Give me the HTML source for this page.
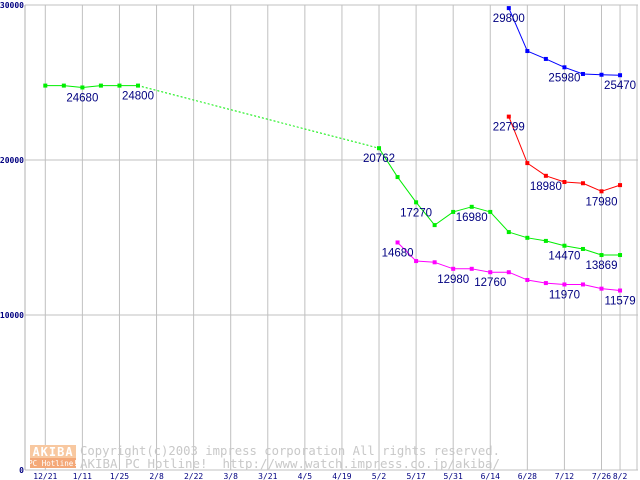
<!DOCTYPE html>
<html><head><meta charset="utf-8"><style>
body{margin:0;background:#fff;}
svg{display:block;font-family:"DejaVu Sans Mono","Liberation Mono",monospace;}
</style></head><body>
<svg id="chart" width="640" height="480" viewBox="0 0 640 480">
<rect x="0" y="0" width="640" height="480" fill="#fff"/>
<g id="grid"></g>
<g id="logo">
<rect x="30" y="445" width="46" height="13" fill="#f8c8a0"/>
<rect x="30" y="458" width="46" height="10" fill="#f4a878"/>
<text x="53" y="456" font-size="12" fill="#fff" text-anchor="middle" font-weight="bold" letter-spacing="1">AKIBA</text>
<text x="53" y="466" font-size="7.5" fill="#fff" text-anchor="middle">PC Hotline!</text>
</g>
<g fill="#c8c8c8" font-size="12">
<text x="80" y="455" textLength="420" lengthAdjust="spacingAndGlyphs">Copyright(c)2003 impress corporation All rights reserved.</text>
<text x="80" y="468" textLength="420" lengthAdjust="spacingAndGlyphs" xml:space="preserve">AKIBA PC Hotline!  http://www.watch.impress.co.jp/akiba/</text>
</g>
<g id="series"></g>
<g id="labels"></g>
</svg>
<script>
const xTickLabels=["12/21","1/11","1/25","2/8","2/22","3/8","3/21","4/5","4/19","5/2","5/17","5/31","6/14","6/28","7/12","7/26","8/2"];
const xTickIndex=[0,2,4,6,8,10,12,14,16,18,20,22,24,26,28,30,31];
const yTicks=[0,10000,20000,30000];
const greenIdx=[0,1,2,3,4,5,18,19,20,21,22,23,24,25,26,27,28,29,30,31];
const greenVals=[24800,24800,24680,24800,24800,24800,20762,18900,17270,15800,16650,16980,16650,15350,14980,14780,14470,14260,13869,13869];
const magIdx=[19,20,21,22,23,24,25,26,27,28,29,30,31];
const magVals=[14680,13480,13400,12980,12980,12760,12760,12260,12060,11970,11970,11700,11579];
const redIdx=[25,26,27,28,29,30,31];
const redVals=[22799,19800,18980,18580,18500,17980,18380];
const blueIdx=[25,26,27,28,29,30,31];
const blueVals=[29800,27030,26520,25980,25550,25500,25470];
const greenLabels=[2,5,6,8,11,16,18];
const magLabels=[0,3,5,9,12];
const redLabels=[0,2,5];
const blueLabels=[0,3,6];
const NS="http://www.w3.org/2000/svg";
const X=i=>45.3+18.54*i;
const Y=v=>470-v*0.0155;
function mk(t,a,p){const e=document.createElementNS(NS,t);for(const k in a)e.setAttribute(k,a[k]);p.appendChild(e);return e;}
const grid=document.getElementById('grid');
yTicks.forEach(v=>{
  const l=mk('line',{x1:25,x2:638,y1:Y(v),y2:Y(v),stroke:'#c0c0c0','stroke-width':1},grid);
  
  
  const t=mk('text',{x:24,y:Y(v)+3,'font-size':8,fill:'#000080','text-anchor':'end','font-weight':'bold'},grid);
  t.textContent=v;
  
  
});
xTickIndex.forEach((i,k)=>{
  const l=mk('line',{x1:X(i),x2:X(i),y1:5,y2:470,stroke:'#c0c0c0','stroke-width':1},grid);
  
  
  const t=mk('text',{x:X(i),y:479,'font-size':8,fill:'#000080','text-anchor':'middle'},grid);
  t.textContent=xTickLabels[k];
  
  
});
mk('line',{x1:25,x2:25,y1:5,y2:470,stroke:'#b0b0b0'},grid);
mk('line',{x1:637,x2:637,y1:5,y2:470,stroke:'#c0c0c0'},grid);
const sg=document.getElementById('series'),lg=document.getElementById('labels');
function series(name,idx,vals,color,labs){
  const g=mk('g',{},sg);
  
  
  for(let k=0;k<idx.length-1;k++){
    const dash=idx[k+1]-idx[k]>1;
    const l=mk('line',{x1:X(idx[k]),y1:Y(vals[k]),x2:X(idx[k+1]),y2:Y(vals[k+1]),stroke:color,'stroke-width':1},g);
    if(dash)l.setAttribute('stroke-dasharray','2,2');
  }
  idx.forEach((i,k)=>{
    const r=mk('rect',{x:X(i)-2,y:Y(vals[k])-2,width:4,height:4,fill:color},g);
    
    
  });
  labs.forEach(k=>{
    const t=mk('text',{x:X(idx[k]),y:Y(vals[k])+14,'font-size':11.5,fill:'#000080','text-anchor':'middle','font-family':'Liberation Sans, sans-serif'},lg);
    t.textContent=vals[k];
    
    
  });
}
series('green-series',greenIdx,greenVals,'#00ee00',greenLabels);
series('magenta-series',magIdx,magVals,'#ff00ff',magLabels);
series('red-series',redIdx,redVals,'#ff0000',redLabels);
series('blue-series',blueIdx,blueVals,'#0000ff',blueLabels);
</script>
</body></html>
